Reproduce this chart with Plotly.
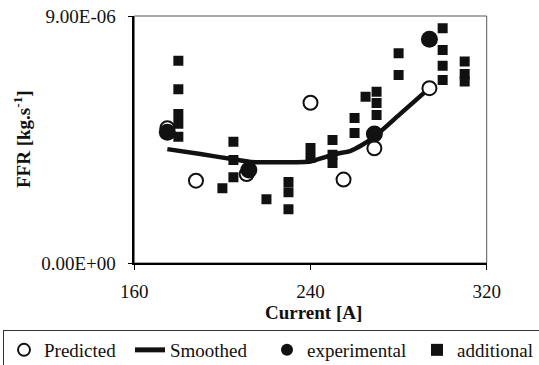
import plotly.graph_objects as go

# ---- data ----
predicted_x = [175, 188, 211, 240, 255, 269, 294]
predicted_y = [4.91e-6, 3.00e-6, 3.24e-6, 5.84e-6, 3.04e-6, 4.18e-6, 6.37e-6]

smoothed_x = [175, 190, 205, 213, 225, 240, 247, 253, 258, 263, 269, 281, 294]
smoothed_y = [4.15e-6, 3.97e-6, 3.78e-6, 3.68e-6, 3.67e-6, 3.70e-6, 3.87e-6,
              4.00e-6, 4.08e-6, 4.28e-6, 4.60e-6, 5.45e-6, 6.37e-6]

experimental_x = [175, 212, 269, 294]
experimental_y = [4.76e-6, 3.39e-6, 4.70e-6, 8.15e-6]

additional_x = [180, 180, 180, 180, 180,
                200,
                205, 205, 205,
                220,
                230, 230, 230,
                240, 240,
                250, 250, 250,
                260, 260,
                265,
                270, 270, 270,
                280, 280,
                300, 300, 300, 300,
                310, 310, 310]
additional_y = [7.37e-6, 6.33e-6, 5.43e-6, 5.07e-6, 4.60e-6,
                2.72e-6,
                4.42e-6, 3.75e-6, 3.12e-6,
                2.32e-6,
                2.95e-6, 2.58e-6, 1.96e-6,
                4.19e-6, 3.83e-6,
                4.48e-6, 3.94e-6, 3.64e-6,
                5.28e-6, 4.74e-6,
                6.06e-6,
                6.24e-6, 5.83e-6, 5.39e-6,
                7.64e-6, 6.85e-6,
                8.55e-6, 7.76e-6, 7.19e-6, 6.67e-6,
                7.34e-6, 6.89e-6, 6.61e-6]

x_ticks = [160, 240, 320]
y_ticks = [0, 9e-6]
y_tick_labels = ["0.00E+00", "9.00E-06"]

FONT = "Liberation Serif"
INK = "#111111"

W, H = 539, 365

fig = go.Figure()

fig.add_trace(go.Scatter(
    x=smoothed_x, y=smoothed_y, mode="lines", name="Smoothed",
    line=dict(color=INK, width=4.5, shape="spline", smoothing=0.6),
    legendrank=2, legendwidth=92))

fig.add_trace(go.Scatter(
    x=predicted_x, y=predicted_y, mode="markers", name="Predicted",
    marker=dict(symbol="circle", size=14, color="white",
                line=dict(color=INK, width=2)),
    legendrank=1, legendwidth=81))

fig.add_trace(go.Scatter(
    x=experimental_x, y=experimental_y, mode="markers", name="experimental",
    marker=dict(symbol="circle", size=17, color=INK),
    legendrank=3, legendwidth=105))

fig.add_trace(go.Scatter(
    x=additional_x, y=additional_y, mode="markers", name="additional",
    marker=dict(symbol="square", size=10, color=INK),
    legendrank=4, legendwidth=78))

x_dom = [134.3 / W, 486.7 / W]
y_dom = [(H - 263) / H, (H - 16) / H]

axis_common = dict(
    showline=True, linecolor="black", linewidth=1.5,
    ticks="outside", ticklen=5, tickcolor="black", tickwidth=1,
    showgrid=False, zeroline=False, automargin=False,
    tickfont=dict(family=FONT, size=19, color=INK),
)

fig.update_layout(
    width=W, height=H,
    margin=dict(l=0, r=0, t=0, b=0, autoexpand=False),
    paper_bgcolor="white", plot_bgcolor="white",
    font=dict(family=FONT, size=19, color=INK),
    xaxis=dict(domain=x_dom, range=[160, 320], tickmode="array",
               tickvals=x_ticks, ticklabelstandoff=5, **axis_common),
    yaxis=dict(domain=y_dom, range=[0, 9e-6], tickmode="array",
               tickvals=y_ticks, ticktext=y_tick_labels,
               ticklabelstandoff=8, **axis_common),
    showlegend=True,
    legend=dict(orientation="h", x=3 / W, y=(H - 330) / H,
                xanchor="left", yanchor="top",
                bordercolor="#333333", borderwidth=1, bgcolor="white",
                font=dict(family=FONT, size=19, color=INK),
                itemsizing="constant", traceorder="normal"),
    shapes=[dict(type="rect", xref="x domain", yref="y domain",
                 x0=0, x1=1, y0=0, y1=1, layer="below",
                 line=dict(color="#555555", width=1))],
    annotations=[
        dict(text="<b>Current [A]</b>", xref="paper", yref="paper",
             x=313 / W, y=(H - 312) / H, xanchor="center", yanchor="middle",
             showarrow=False, font=dict(family=FONT, size=19, color=INK)),
        dict(text="<b>FFR [kg.s<sup>-1</sup>]</b>", xref="paper", yref="paper",
             x=22 / W, y=(H - 139) / H, xanchor="center", yanchor="middle",
             textangle=-90, showarrow=False,
             font=dict(family=FONT, size=19, color=INK)),
    ],
)

fig.write_html("out.html")
